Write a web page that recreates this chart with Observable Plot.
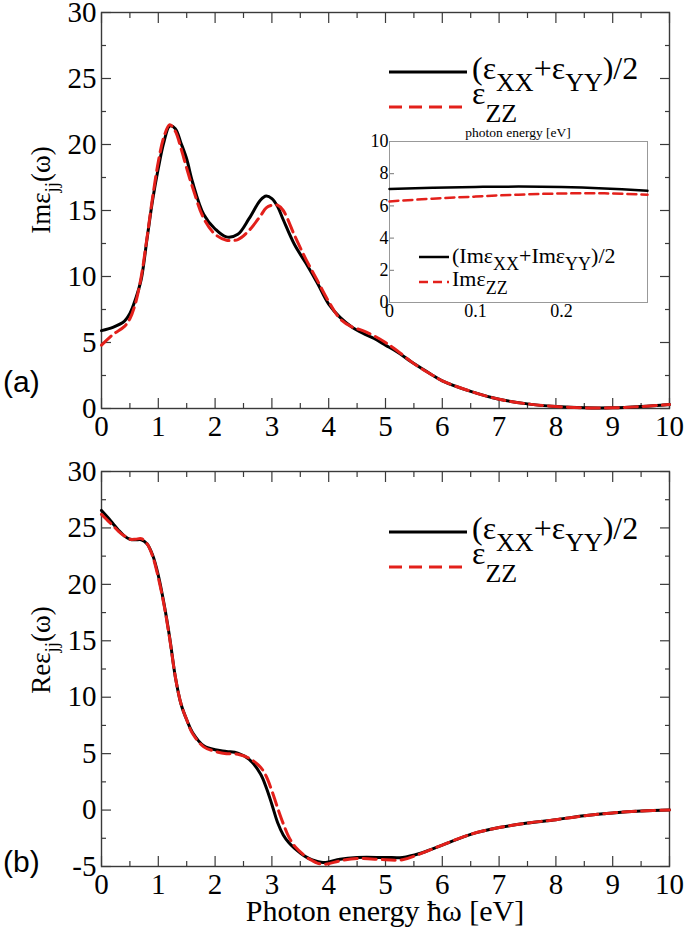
<!DOCTYPE html>
<html><head><meta charset="utf-8">
<script src="https://cdn.jsdelivr.net/npm/d3@7"></script>
<script src="https://cdn.jsdelivr.net/npm/@observablehq/plot@0.6"></script>
<style>
body{margin:0;background:#fff;}
#wrap{position:relative;width:685px;height:932px;overflow:hidden;background:#fff;}
#wrap svg{position:absolute;overflow:visible;}
</style></head><body><div id="wrap"></div>
<script>
// ---------- data: panel (a) Im eps ----------
const imEnergy = [0,0.2,0.4,0.5,0.6,0.7,0.8,0.9,1.0,1.1,1.2,1.3,1.4,1.5,1.6,1.8,2.0,2.2,2.4,2.6,2.8,2.9,3.0,3.1,3.2,3.4,3.6,3.8,4.0,4.2,4.4,4.6,4.8,5.0,5.2,5.5,5.8,6.0,6.5,7.0,7.5,8.0,8.5,9.0,9.5,10];
const imXY = [5.9,6.15,6.6,7.2,8.3,9.8,12.8,15.8,18.2,20.2,21.4,21.2,20.1,18.9,17.2,14.7,13.6,13.0,13.2,14.4,15.8,16.1,15.9,15.3,14.3,12.4,11.0,9.5,7.9,6.9,6.2,5.7,5.3,4.8,4.3,3.4,2.6,2.1,1.3,0.7,0.35,0.15,0.05,0.05,0.15,0.3];
const imZZ = [4.8,5.6,6.2,6.8,8.0,10.0,12.9,16.0,18.7,20.6,21.5,21.0,19.7,18.2,16.8,14.4,13.2,12.75,12.8,13.5,14.6,15.2,15.4,15.4,15.0,13.1,11.3,9.7,8.1,6.8,6.2,5.9,5.5,5.0,4.4,3.4,2.6,2.1,1.3,0.7,0.35,0.15,0.05,0.05,0.15,0.3];

// ---------- data: panel (b) Re eps ----------
const reEnergy = [0,0.1,0.2,0.3,0.4,0.5,0.6,0.7,0.8,0.9,1.0,1.1,1.2,1.3,1.4,1.5,1.6,1.8,2.0,2.2,2.4,2.6,2.8,2.9,3.0,3.1,3.2,3.3,3.4,3.5,3.6,3.7,3.8,3.9,4.0,4.2,4.5,5.0,5.3,5.6,6.0,6.5,7.0,7.5,8.0,8.5,9.0,9.5,10];
const reXY = [26.55,26.0,25.4,24.8,24.3,24.0,23.95,23.95,23.6,22.6,20.8,18.3,15.3,11.8,9.4,8.0,6.9,5.7,5.35,5.2,5.05,4.5,3.2,2.0,0.5,-1.1,-2.2,-2.9,-3.4,-3.8,-4.15,-4.4,-4.55,-4.65,-4.6,-4.35,-4.2,-4.2,-4.2,-3.85,-3.1,-2.15,-1.55,-1.15,-0.85,-0.5,-0.25,-0.08,0.0];
const reZZ = [26.2,25.7,25.2,24.7,24.3,24.0,24.0,24.05,23.6,22.5,20.6,18.2,15.2,11.8,9.4,8.0,6.8,5.6,5.2,5.0,4.95,4.6,3.8,3.0,1.7,0.2,-1.2,-2.4,-3.2,-3.7,-4.15,-4.45,-4.7,-4.8,-4.75,-4.5,-4.3,-4.4,-4.4,-3.9,-3.1,-2.15,-1.55,-1.15,-0.85,-0.5,-0.25,-0.08,0.0];

// ---------- data: inset ----------
const insetEnergy = [0,0.05,0.1,0.15,0.2,0.25,0.3];
const insetXY = [7.05,7.13,7.18,7.2,7.17,7.08,6.94];
const insetZZ = [6.28,6.45,6.58,6.7,6.77,6.78,6.7];

// ---------- ticks ----------
const xTicks = [0,1,2,3,4,5,6,7,8,9,10];
const xMinor = [0.5,1.5,2.5,3.5,4.5,5.5,6.5,7.5,8.5,9.5];
const imYTicks = [0,5,10,15,20,25,30];
const imYMinor = [2.5,7.5,12.5,17.5,22.5,27.5];
const reYTicks = [-5,0,5,10,15,20,25,30];
const reYMinor = [-2.5,2.5,7.5,12.5,17.5,22.5,27.5];
const insetYTicks = [0,2,4,6,8,10];
const insetXTicks = [0,0.1,0.2];

const SERIF = "'Liberation Serif','Times New Roman',serif";
const SANS = "'Liberation Sans',Arial,sans-serif";
const RED = "#e3201b";
const AX = "#3a3a3a";
const fmt = d => String(d);

function tickMarks(yTicks, yMinor) {
  const o = {fill: "none", stroke: AX, strokeWidth: 1.2, label: null};
  return [
    Plot.axisX(xTicks, {...o, anchor: "bottom", tickSize: 10, dy: -10}),
    Plot.axisX(xMinor, {...o, anchor: "bottom", tickSize: 5, dy: -5}),
    Plot.axisX(xTicks, {...o, anchor: "top", tickSize: 10, dy: 10}),
    Plot.axisX(xMinor, {...o, anchor: "top", tickSize: 5, dy: 5}),
    Plot.axisY(yTicks, {...o, anchor: "left", tickSize: 10, dx: 10}),
    Plot.axisY(yMinor, {...o, anchor: "left", tickSize: 5, dx: 5}),
    Plot.axisY(yTicks, {...o, anchor: "right", tickSize: 10, dx: -10}),
    Plot.axisY(yMinor, {...o, anchor: "right", tickSize: 5, dx: -5}),
    Plot.axisX(xTicks, {anchor: "bottom", tickSize: 0, tickPadding: 7, fontSize: 29, fill: "#000", tickFormat: fmt, label: null}),
    Plot.axisY(yTicks, {anchor: "left", tickSize: 0, tickPadding: 5, fontSize: 29, fill: "#000", tickFormat: fmt, label: null})
  ];
}

function panel({energy, xy, zz, yDomain, yTicks, yMinor, height, marginTop, marginBottom}) {
  return Plot.plot({
    width: 685, height, marginLeft: 101, marginRight: 16, marginTop, marginBottom,
    style: {background: "transparent", fontFamily: SERIF, overflow: "visible"},
    x: {domain: [0, 10], axis: null},
    y: {domain: yDomain, axis: null},
    marks: [
      ...tickMarks(yTicks, yMinor),
      Plot.frame({stroke: AX, strokeWidth: 1.4}),
      Plot.line(energy, {x: energy, y: xy, stroke: "#000", strokeWidth: 3, curve: "catmull-rom"}),
      Plot.line(energy, {x: energy, y: zz, stroke: RED, strokeWidth: 3, strokeDasharray: "13,6", curve: "catmull-rom"})
    ]
  });
}

function richText(svg, x, y, parts, opt) {
  const t = d3.select(svg).append("text")
    .attr("transform", `translate(${x},${y})` + (opt.rotate ? ` rotate(${opt.rotate})` : ""))
    .attr("font-family", opt.family || SERIF)
    .attr("font-size", opt.size)
    .attr("text-anchor", opt.anchor || "start")
    .attr("fill", "#000");
  let shift = 0;
  for (const [s, sub] of parts) {
    const target = sub ? opt.subDy : 0;
    t.append("tspan").attr("dy", target - shift).attr("font-size", sub ? opt.subSize : opt.size).text(s);
    shift = target;
  }
  return t;
}
function swatch(svg, x1, x2, y, color, dash, w) {
  d3.select(svg).append("line").attr("x1", x1).attr("x2", x2).attr("y1", y).attr("y2", y)
    .attr("stroke", color).attr("stroke-width", w).attr("stroke-dasharray", dash || null);
}
function legend(svg, y1, y2) {
  swatch(svg, 389, 467, y1, "#000", null, 3);
  richText(svg, 472, y1 + 7, [["(ε"], ["XX", 1], ["+ε"], ["YY", 1], [")/2"]], {size: 32, subSize: 26, subDy: 12});
  swatch(svg, 389, 467, y2, RED, "13,7", 3);
  richText(svg, 472, y2 - 3, [["ε"], ["ZZ", 1]], {size: 32, subSize: 26, subDy: 18});
}

const wrap = document.getElementById("wrap");

// ---- panel (a)
const plotA = panel({energy: imEnergy, xy: imXY, zz: imZZ, yDomain: [0, 30], yTicks: imYTicks, yMinor: imYMinor, height: 460, marginTop: 12, marginBottom: 52});
plotA.style.left = "0px"; plotA.style.top = "0px";
wrap.appendChild(plotA);
legend(plotA, 72, 107);
richText(plotA, 3, 392, [["(a)"]], {size: 30, family: SANS});
richText(plotA, 50, 190, [["Imε"], ["jj", 1], ["(ω)"]], {size: 27, subSize: 19, subDy: 8, rotate: -90, anchor: "middle"});

// ---- inset
const insetPlot = Plot.plot({
  width: 292, height: 206, marginLeft: 29, marginRight: 5, marginTop: 23, marginBottom: 22,
  style: {background: "transparent", fontFamily: SERIF, overflow: "visible"},
  x: {domain: [0, 0.3], axis: null},
  y: {domain: [0, 10], axis: null},
  marks: [
    Plot.axisY(insetYTicks, {anchor: "left", tickSize: 5, dx: 5, fill: "none", stroke: "#777", label: null}),
    Plot.axisY(insetYTicks, {anchor: "left", tickSize: 0, tickPadding: 1, fontSize: 18, fill: "#000", tickFormat: fmt, label: null}),
    Plot.axisX(insetXTicks, {anchor: "bottom", tickSize: 0, tickPadding: 2, fontSize: 18, fill: "#000", tickFormat: fmt, label: null}),
    Plot.frame({stroke: "#999", strokeWidth: 1}),
    Plot.line(insetEnergy, {x: insetEnergy, y: insetXY, stroke: "#000", strokeWidth: 2.5, curve: "catmull-rom"}),
    Plot.line(insetEnergy, {x: insetEnergy, y: insetZZ, stroke: RED, strokeWidth: 2.5, strokeDasharray: "9,5", curve: "catmull-rom"})
  ]
});
insetPlot.style.left = "360px"; insetPlot.style.top = "118px";
wrap.appendChild(insetPlot);
richText(insetPlot, 158, 19, [["photon energy [eV]"]], {size: 13.5, anchor: "middle"});
swatch(insetPlot, 59, 89, 139, "#000", null, 2.5);
richText(insetPlot, 92, 145, [["(Imε"], ["XX", 1], ["+Imε"], ["YY", 1], [")/2"]], {size: 22, subSize: 18, subDy: 7});
swatch(insetPlot, 59, 89, 164, RED, "9,5", 2.5);
richText(insetPlot, 92, 168, [["Imε"], ["ZZ", 1]], {size: 22, subSize: 18, subDy: 8});

// ---- panel (b)
const plotB = panel({energy: reEnergy, xy: reXY, zz: reZZ, yDomain: [-5, 30], yTicks: reYTicks, yMinor: reYMinor, height: 472, marginTop: 11, marginBottom: 66});
plotB.style.left = "0px"; plotB.style.top = "460px";
wrap.appendChild(plotB);
legend(plotB, 72, 107);
richText(plotB, 3, 412, [["(b)"]], {size: 30, family: SANS});
richText(plotB, 50, 190, [["Reε"], ["jj", 1], ["(ω)"]], {size: 27, subSize: 19, subDy: 8, rotate: -90, anchor: "middle"});
richText(plotB, 385, 461, [["Photon energy ħω [eV]"]], {size: 30, anchor: "middle"});
</script>
</body></html>
